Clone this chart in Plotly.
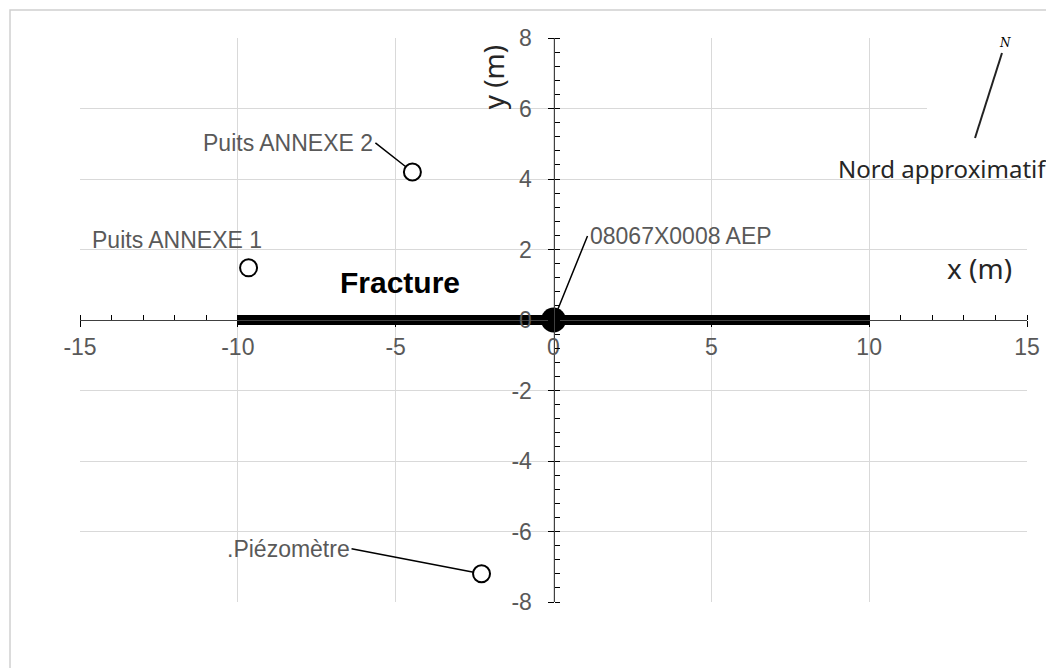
import plotly.graph_objects as go

# well positions (m)
well_names = ["Puits ANNEXE 1", "Puits ANNEXE 2", ".Piézomètre"]
well_x = [-9.66, -4.47, -2.28]
well_y = [1.48, 4.2, -7.2]

main_name = "08067X0008 AEP"
main_x = [0]
main_y = [0]

fracture_x = [-10, 10]
fracture_y = [0, 0]

x_ticks = [-15, -10, -5, 0, 5, 10, 15]
x_tick_text = ["-15", "-10", "-5", "0", "5", "10", "15"]
y_ticks = [-8, -6, -4, -2, 0, 2, 4, 6, 8]
y_tick_text = ["-8", "-6", "-4", "-2", "0", "2", "4", "6", "8"]

gray = "#595959"
font_main = "Liberation Sans, Arial, sans-serif"

fig = go.Figure()

fig.add_trace(go.Scatter(x=fracture_x, y=fracture_y, mode="lines",
                         line=dict(color="black", width=10), hoverinfo="skip"))
fig.add_trace(go.Scatter(x=well_x, y=well_y, mode="markers", text=well_names,
                         marker=dict(size=17, color="white", line=dict(color="black", width=2))))
fig.add_trace(go.Scatter(x=main_x, y=main_y, mode="markers", text=[main_name],
                         marker=dict(size=25, color="black")))

axis_common = dict(showgrid=True, gridcolor="#d9d9d9", gridwidth=1, zeroline=False,
                   showline=True, linecolor="#404040", linewidth=1,
                   ticks="outside", ticklen=6, tickcolor="black", tickwidth=1,
                   tickfont=dict(family=font_main, size=23, color=gray),
                   anchor="free", position=0.5, tickmode="array")

fig.update_xaxes(range=[-15, 15], tickvals=x_ticks, ticktext=x_tick_text,
                 minor=dict(tickmode="linear", tick0=0, dtick=1, ticks="inside",
                            ticklen=5, tickcolor="black", showgrid=False),
                 **axis_common)
fig.update_yaxes(range=[-8, 8], tickvals=y_ticks, ticktext=y_tick_text,
                 ticklabelstandoff=11,
                 minor=dict(tickmode="linear", tick0=0, dtick=0.4, ticks="inside",
                            ticklen=5, tickcolor="black", showgrid=False),
                 **axis_common)

label_font = dict(family=font_main, size=23, color=gray)
annotations = [
    # label without leader
    dict(x=-14.67, y=2.27, text=well_names[0], showarrow=False, xanchor="left",
         font=label_font),
    dict(x=well_x[1], y=well_y[1], text=well_names[1], showarrow=True, arrowhead=0,
         arrowwidth=1.5, arrowcolor="black", ax=-37, ay=-29, xanchor="right", standoff=8,
         font=label_font),
    dict(x=well_x[2], y=well_y[2], text=well_names[2], showarrow=True, arrowhead=0,
         arrowwidth=1.5, arrowcolor="black", ax=-130, ay=-25, xanchor="right", standoff=8,
         font=label_font),
    dict(x=main_x[0], y=main_y[0], text=main_name, showarrow=True, arrowhead=0,
         arrowwidth=1.5, arrowcolor="black", ax=34, ay=-84, xanchor="left", standoff=10,
         font=label_font),
    dict(x=-4.85, y=1.05, text="<b>Fracture</b>", showarrow=False,
         font=dict(family=font_main, size=30, color="black")),
    dict(x=13.5, y=1.48, text="x (m)", showarrow=False,
         font=dict(family="Noto Sans", size=28, color="#262626")),
    dict(x=-1.93, y=6.9, text="y (m)", showarrow=False, textangle=-90,
         font=dict(family="Noto Sans", size=28, color="#262626")),
    dict(x=0.7983, y=0.7695, xref="paper", yref="paper", text="Nord approximatif",
         showarrow=False, xanchor="left", yanchor="middle",
         font=dict(family="Noto Sans", size=24, color="#262626")),
    dict(x=0.9768, y=0.9911, xref="paper", yref="paper", text="<i>N</i>",
         showarrow=False, xanchor="center", yanchor="middle",
         font=dict(family="DejaVu Serif", size=12, color="black")),
]

shapes = [
    # outer chart frame
    dict(type="rect", xref="paper", yref="paper", x0=-0.0739, y0=-0.3, x1=1.1, y1=1.0496,
         line=dict(color="#d0d0d0", width=1.5), layer="below"),
    # white background of the north-arrow picture
    dict(type="rect", xref="paper", yref="paper", x0=0.8944, y0=0.8582, x1=1.03, y1=0.9787,
         fillcolor="white", line=dict(width=0), layer="above"),
    dict(type="rect", xref="paper", yref="paper", x0=0.9377, y0=0.9787, x1=1.03, y1=1.023,
         fillcolor="white", line=dict(width=0), layer="above"),
    # north arrow
    dict(type="line", xref="paper", yref="paper", x0=0.9451, y0=0.8227, x1=0.9736, y1=0.9734,
         line=dict(color="#222222", width=2), layer="above"),
]

# page body keeps an 8 px margin, so the plot margins are shifted by 8 px
fig.update_layout(width=1054, height=668, showlegend=False,
                  margin=dict(l=72, r=35, t=30, b=74),
                  plot_bgcolor="white", paper_bgcolor="white",
                  annotations=annotations, shapes=shapes)

fig.write_html("out.html")
